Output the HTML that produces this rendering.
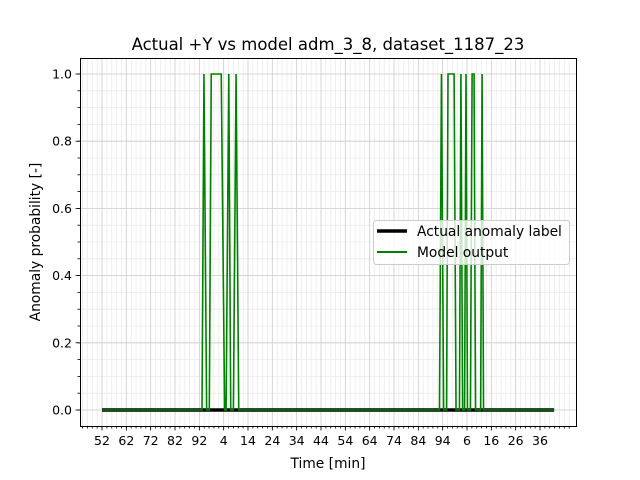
<!DOCTYPE html>
<html><head><meta charset="utf-8"><style>
html,body{margin:0;padding:0;background:#fff;}
svg{display:block;font-family:"DejaVu Sans","Liberation Sans",sans-serif;}
</style></head><body>
<svg id="chart" width="640" height="480" xmlns="http://www.w3.org/2000/svg">
<rect x="0" y="0" width="640" height="480" fill="#fff"/>
<g id="grid"></g>
<g id="series"></g>
<rect x="80.5" y="58.5" width="496" height="368" fill="none" stroke="#000" stroke-width="1"/>
<g id="axes"></g>
<text x="328" y="50" text-anchor="middle" font-size="16.5">Actual +Y vs model adm_3_8, dataset_1187_23</text>
<text x="328" y="468" text-anchor="middle" font-size="13.8">Time [min]</text>
<text transform="translate(40,242) rotate(-90)" text-anchor="middle" font-size="13.8">Anomaly probability [-]</text>
<g>
<rect x="373.5" y="220.5" width="196" height="44" rx="3" fill="#fff" fill-opacity="0.8" stroke="#ccc"/>
<line x1="377" y1="231" x2="407" y2="231" stroke="#000" stroke-width="3.5"/>
<text x="417" y="236" font-size="13.8">Actual anomaly label</text>
<line x1="377" y1="252" x2="407" y2="252" stroke="#008000" stroke-width="2"/>
<text x="417" y="257" font-size="13.8">Model output</text>
</g>
</svg>
<script>
const xTickValues = [0,10,20,30,40,50,60,70,80,90,100,110,120,130,140,150,160,170,180];
const xTickLabels = ["52","62","72","82","92","4","14","24","34","44","54","64","74","84","94","6","16","26","36"];
const yTickValues = [0,0.2,0.4,0.6,0.8,1.0];
const yTickLabels = ["0.0","0.2","0.4","0.6","0.8","1.0"];
const actualTimes = [0,185.8];
const actualValues = [0,0];
const modelTimes = [0,41.1,41.9,43.0,44.1,44.9,49.0,50.4,51.0,52.1,52.9,54.0,55.1,56.2,
  138.7,139.5,140.4,141.6,142.2,144.7,145.5,146.9,147.5,148.2,149.0,149.6,150.2,151.4,152.1,152.9,153.5,155.6,156.2,156.8,185.8];
const modelValues = [0,0,1,0,0,1,1,0,0,1,0,0,1,0,
  0,1,0,0,1,1,0,0,1,0,0,1,0,0,1,1,0,0,1,0,0];

const NS="http://www.w3.org/2000/svg";
const X0=102, XS=24.333/10;
const Y0=410, YS=336;
function sx(t){return X0+t*XS;}
function sy(v){return Y0-v*YS;}
function mk(tag,attrs,parent){const e=document.createElementNS(NS,tag);for(const k in attrs)e.setAttribute(k,attrs[k]);parent.appendChild(e);return e;}
const grid=document.getElementById('grid'), axes=document.getElementById('axes'), series=document.getElementById('series');
for(let t=-8;t<=192;t+=2){const x=sx(t);if(x<81||x>576)continue;
  const l=mk('line',{x1:x,y1:59,x2:x,y2:426,stroke:'#ebebeb','stroke-width':0.8},grid);
  
  
  const tk=mk('line',{x1:x,y1:426,x2:x,y2:428.5,stroke:'#000','stroke-width':0.8},axes);
  
  
}
for(let v=-0.05;v<=1.07;v+=0.05){const y=sy(v);if(y<59||y>426)continue;
  const l=mk('line',{x1:81,y1:y,x2:576,y2:y,stroke:'#ebebeb','stroke-width':0.8},grid);
  
  
  const tk=mk('line',{x1:77.5,y1:y,x2:80,y2:y,stroke:'#000','stroke-width':0.8},axes);
  
  
}
xTickValues.forEach((t,i)=>{const x=sx(t);
  const l=mk('line',{x1:x,y1:59,x2:x,y2:426,stroke:'#cfcfcf','stroke-width':0.8},grid);
  
  
  const tk=mk('line',{x1:x,y1:426,x2:x,y2:430.5,stroke:'#000','stroke-width':0.8},axes);
  
  
  const tx=mk('text',{x:x,y:445,'text-anchor':'middle','font-size':12.5},axes);tx.textContent=xTickLabels[i];
  
  
});
yTickValues.forEach((v,i)=>{const y=sy(v);
  const l=mk('line',{x1:81,y1:y,x2:576,y2:y,stroke:'#cfcfcf','stroke-width':0.8},grid);
  
  
  const tk=mk('line',{x1:75.5,y1:y,x2:80,y2:y,stroke:'#000','stroke-width':0.8},axes);
  
  
  const tx=mk('text',{x:72,y:y+4.5,'text-anchor':'end','font-size':12.5},axes);tx.textContent=yTickLabels[i];
  
  
});
const pa=mk('polyline',{points:actualTimes.map((t,i)=>sx(t)+','+sy(actualValues[i])).join(' '),fill:'none',stroke:'#000','stroke-width':3.5},series);


const pm=mk('polyline',{points:modelTimes.map((t,i)=>sx(t)+','+sy(modelValues[i])).join(' '),fill:'none',stroke:'#008000','stroke-width':1.6,'stroke-linejoin':'miter'},series);


</script>
</body></html>
